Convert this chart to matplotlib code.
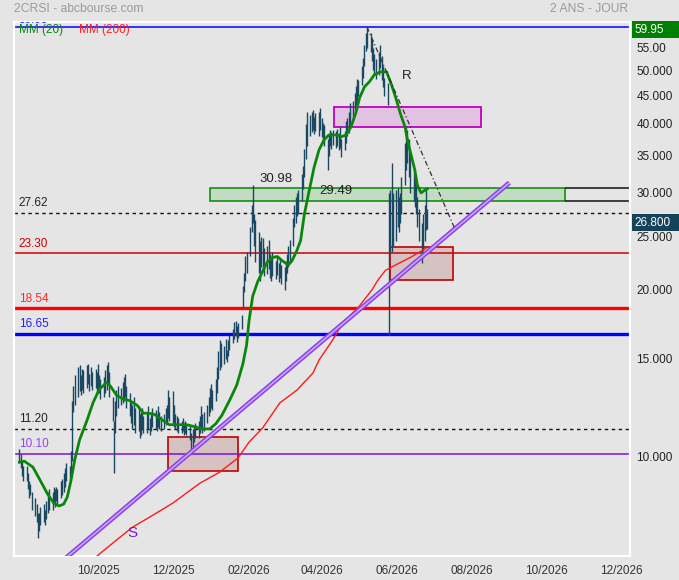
import matplotlib
matplotlib.use('Agg')
import matplotlib.pyplot as plt
import matplotlib.dates as mdates
from matplotlib.patches import Rectangle
from matplotlib.transforms import blended_transform_factory
from matplotlib.ticker import NullLocator, FixedLocator, FixedFormatter
import numpy as np
import pandas as pd

plt.rcParams['font.family'] = ['Liberation Sans', 'DejaVu Sans']

# ---------------- data ----------------
bar_start = '2025-07-29'
# daily lows / highs (one line per week)
lows = [
    9.7, 9.5, 9.2, 9.0,
    9.0, 8.7, 8.4, 8.5, 8.0,
    7.8, 7.6, 7.1, 7.3, 7.5,
    7.6, 7.5, 7.7, 7.9, 8.0,
    8.0, 8.2, 8.1, 8.3, 8.2,
    8.4, 8.5, 8.6, 8.8, 9.0,
    9.0, 9.2, 9.8, 12.0, 12.4,
    12.8, 13.1, 12.9, 13.2, 13.0,
    13.3, 13.5, 13.1, 13.4, 13.2,
    13.3, 13.0, 13.2, 13.0, 12.7,
    12.8, 13.0, 13.2, 13.5, 12.8,
    11.6, 9.3, 11.0, 11.8, 12.2,
    12.4, 12.5, 12.6, 12.8, 12.2,
    11.8, 11.5, 11.2, 11.4, 11.0,
    11.1, 10.8, 10.9, 11.2, 11.0,
    11.0, 11.2, 10.9, 11.1, 11.3,
    11.2, 11.1, 11.3, 11.2, 11.1,
    11.2, 11.4, 11.5, 11.7, 11.6,
    11.5, 11.3, 11.2, 11.1, 11.0,
    11.0, 11.1, 10.9, 11.0, 10.9,
    10.7, 10.1, 10.4, 10.6, 10.8,
    10.8, 11.0, 11.2, 11.0, 11.1,
    11.5, 11.8, 12.0, 12.2, 12.1,
    12.6, 13.0, 13.8, 14.3, 14.5,
    14.7, 15.0, 14.8, 15.2, 15.6,
    16.0, 16.3, 16.5, 16.1, 16.4,
    17.0, 18.6, 19.8, 20.8, 21.5,
    23.0, 25.5, 26.5, 24.0, 22.5,
    21.5, 20.8, 22.0, 21.6, 21.2,
    21.4, 21.8, 21.0, 20.8, 21.2,
    20.9, 21.3, 20.7, 21.0, 20.5,
    20.0, 20.8, 21.5, 22.0, 22.4,
    24.0, 26.0, 26.5, 27.2, 27.5,
    29.0, 30.5, 32.0, 34.5, 36.5,
    38.0, 38.6, 39.0, 38.4, 38.8,
    38.0, 39.0, 37.9, 37.0, 36.5,
    33.0, 35.0, 36.4, 36.0, 36.6,
    36.2, 36.5, 35.8, 36.2, 34.8,
    35.8, 37.0, 38.0, 38.5, 39.5,
    40.5, 42.0, 43.0, 44.0, 45.0,
    47.0, 48.5, 51.0, 54.2, 55.0,
    54.0, 52.0, 50.0, 49.0, 48.2,
    49.0, 50.5, 48.0, 46.7, 45.0,
    43.3, 16.6, 23.4, 23.4, 24.0,
    24.5, 26.0, 25.5, 26.5, 27.5,
    31.0, 33.0, 34.0, 32.0, 30.0,
    29.0, 28.3, 27.5, 26.0, 24.5,
    22.4, 23.5, 24.5, 25.7, 25.8,
]
highs = [
    10.3, 10.1, 9.8, 9.6,
    9.6, 9.3, 9.0, 8.9, 8.6,
    8.4, 8.2, 7.9, 7.9, 8.1,
    8.2, 8.0, 8.3, 8.6, 8.7,
    8.6, 8.8, 8.7, 8.8, 8.7,
    9.0, 9.1, 9.3, 9.5, 9.7,
    9.6, 10.2, 12.6, 13.4, 14.0,
    14.5, 14.6, 14.0, 14.4, 14.3,
    14.6, 14.7, 14.1, 14.5, 14.2,
    14.4, 14.2, 14.7, 14.0, 13.8,
    13.9, 14.3, 14.6, 14.8, 14.2,
    12.8, 11.6, 12.6, 13.2, 13.4,
    13.3, 13.6, 13.9, 14.1, 13.4,
    13.0, 12.6, 12.4, 12.8, 12.2,
    12.3, 11.9, 12.0, 12.2, 11.8,
    12.0, 12.3, 11.7, 12.0, 12.2,
    12.1, 11.9, 12.3, 12.0, 11.8,
    11.9, 12.2, 12.4, 13.2, 12.8,
    13.1, 12.4, 11.9, 11.8, 11.7,
    11.6, 11.7, 11.5, 11.6, 11.4,
    11.4, 11.0, 11.2, 11.3, 11.5,
    11.6, 11.8, 12.3, 11.9, 12.0,
    12.4, 12.8, 13.3, 13.5, 13.2,
    13.8, 14.5, 15.5, 16.2, 16.0,
    15.8, 16.3, 15.6, 16.2, 16.6,
    17.0, 17.5, 17.6, 17.2, 17.4,
    18.0, 20.3, 21.5, 23.0, 23.4,
    26.0, 28.5, 30.98, 27.5, 26.8,
    25.5, 24.5, 25.0, 24.8, 23.8,
    24.0, 24.6, 23.2, 22.8, 23.4,
    22.6, 23.0, 22.4, 22.8, 22.2,
    22.0, 22.6, 23.2, 24.0, 24.6,
    27.0, 28.5, 29.5, 30.0, 30.3,
    32.5, 33.5, 36.0, 40.0, 42.0,
    41.5, 42.0, 42.4, 41.2, 41.8,
    42.0, 42.8, 41.0, 40.2, 39.8,
    37.5, 38.4, 39.0, 38.6, 39.0,
    38.8, 39.2, 38.5, 39.6, 37.5,
    38.8, 40.5, 41.0, 42.0, 43.6,
    44.0, 45.5, 46.8, 48.2, 48.0,
    51.0, 52.6, 55.5, 58.5, 59.95,
    58.5, 57.0, 55.0, 53.5, 52.5,
    54.0, 55.5, 53.0, 51.0, 48.5,
    47.5, 30.0, 30.3, 34.0, 30.0,
    30.3, 30.6, 29.5, 30.0, 32.0,
    37.0, 39.6, 39.0, 37.5, 35.0,
    33.0, 32.0, 31.0, 29.5, 28.0,
    26.5, 27.5, 28.5, 30.3, 28.0,
]
last_price = 26.80

ma20_dates = ['2025-07-29', '2025-08-02', '2025-08-09', '2025-08-15', '2025-08-21', '2025-08-26',
              '2025-08-30', '2025-09-03', '2025-09-06', '2025-09-09', '2025-09-12', '2025-09-16',
              '2025-09-22', '2025-09-27', '2025-10-02', '2025-10-08', '2025-10-11', '2025-10-16',
              '2025-10-21', '2025-10-27', '2025-11-02', '2025-11-07', '2025-11-11', '2025-11-16',
              '2025-11-23', '2025-11-28', '2025-12-04', '2025-12-12', '2025-12-19', '2025-12-25',
              '2025-12-31', '2026-01-05', '2026-01-10', '2026-01-16', '2026-01-22', '2026-01-27',
              '2026-01-30', '2026-02-01', '2026-02-04', '2026-02-08', '2026-02-12', '2026-02-16',
              '2026-02-20', '2026-02-24', '2026-02-28', '2026-03-05', '2026-03-08', '2026-03-12',
              '2026-03-15', '2026-03-18', '2026-03-22', '2026-03-26', '2026-03-30', '2026-04-03',
              '2026-04-07', '2026-04-13', '2026-04-17', '2026-04-21', '2026-04-25', '2026-04-29',
              '2026-05-02', '2026-05-06', '2026-05-10', '2026-05-14', '2026-05-19', '2026-05-24',
              '2026-05-28', '2026-06-01', '2026-06-04', '2026-06-08', '2026-06-10', '2026-06-13',
              '2026-06-16', '2026-06-18', '2026-06-21', '2026-06-23', '2026-06-26']
ma20_vals = [9.75, 9.79, 9.55, 9.03, 8.53, 8.22, 8.12, 8.18, 8.43, 9.03,
             9.83, 10.7, 11.6, 12.5, 13.2, 13.6, 13.4, 12.9, 12.7, 12.6,
             12.35, 11.96, 11.96, 11.9, 11.6, 11.4, 11.4, 11.4, 11.3, 11.2,
             11.2, 11.45, 11.87, 12.6, 13.45, 14.7, 15.9, 17.6, 19.5, 20.7,
             21.6, 22.5, 22.9, 23.0, 22.6, 22.2, 22.6, 23.6, 24.6, 27.4,
             30.3, 33.4, 35.9, 37.4, 38.2, 38.2, 37.9, 38.2, 39.5, 41.9,
             44.6, 46.7, 47.7, 49.1, 49.7, 49.7, 47.1, 44.2, 41.9, 39.5,
             37.4, 35.1, 33.0, 31.0, 30.0, 30.2, 30.5]

ma200_dates = ['2025-09-29', '2025-10-03', '2025-10-16', '2025-10-29', '2025-11-12', '2025-12-01',
               '2025-12-23', '2026-01-08', '2026-01-23', '2026-02-01', '2026-02-12', '2026-02-26',
               '2026-03-12', '2026-03-25', '2026-03-30', '2026-04-09', '2026-04-19', '2026-05-01',
               '2026-05-12', '2026-05-17', '2026-05-23', '2026-06-02', '2026-06-13', '2026-06-25']
ma200_vals = [6.55, 6.67, 7.04, 7.43, 7.75, 8.22, 8.93, 9.35, 9.92, 10.6, 11.24, 12.48,
              13.17, 14.14, 14.93, 16.1, 17.5, 18.6, 20.0, 20.85, 21.7, 22.3, 22.95, 23.8]

# horizontal levels
levels = [59.95, 27.62, 23.30, 18.54, 16.65, 11.20, 10.10]
level_texts = ['59.95', '27.62', '23.30', '18.54', '16.65', '11.20', '10.10']

# zones: (start, end, low, high)
zone_green = ('2025-12-31', '2026-10-16', 29.05, 30.6)
zone_pink = ('2026-04-11', '2026-08-09', 39.5, 42.98)
zone_red_dec = ('2025-11-27', '2026-01-23', 9.39, 10.83)
zone_red_jun = ('2026-05-27', '2026-07-17', 20.85, 23.9)

# trend lines
support_dates = ['2025-08-31', '2026-09-01']
support_vals = [6.40, 31.3]
resist_dates = ['2026-05-08', '2026-07-18']
resist_vals = [59.95, 26.0]

y_ticks = [10, 15, 20, 25, 30, 35, 40, 45, 50, 55]
y_tick_labels = ['10.000', '15.000', '20.000', '25.000', '30.000', '35.000',
                 '40.000', '45.000', '50.000', '55.00']
x_tick_dates = ['2025-10-01', '2025-12-01', '2026-02-01', '2026-04-01',
                '2026-06-01', '2026-08-01', '2026-10-01', '2026-12-01']
x_tick_labels = ['10/2025', '12/2025', '02/2026', '04/2026',
                 '06/2026', '08/2026', '10/2026', '12/2026']

# ---------------- figure ----------------
BG = '#e5e5e5'
fig = plt.figure(figsize=(6.79, 5.80), dpi=100, facecolor=BG)
ax = fig.add_axes([14 / 679, 24 / 580, 616 / 679, 534 / 580], facecolor=BG)
ax.set_yscale('log')
ax.set_ylim(6.59, 61.2)
base = mdates.datestr2num('2025-10-01')
ax.set_xlim(base - 68.4, base + 433.2)

d2n = lambda s: mdates.date2num(pd.to_datetime(s))

# zones
def zone(z, fc, ec, lw=1.1):
    x0, x1 = d2n(z[0]), d2n(z[1])
    ax.add_patch(Rectangle((x0, z[2]), x1 - x0, z[3] - z[2], facecolor=fc,
                           edgecolor=ec, lw=lw, zorder=1))

zone(zone_green, '#c3dbc3', '#008a00')
zone(zone_pink, '#e2c2e2', '#c000c0', 1.3)
zone(zone_red_dec, '#d7c2c2', '#c00000', 1.2)
zone(zone_red_jun, '#d7c2c2', '#c00000', 1.2)
# black extension of the green zone
ax.hlines([zone_green[2], zone_green[3]], d2n(zone_green[1]), base + 433.2,
          color='#111111', lw=1.1, zorder=1)

# horizontal level lines
ax.axhline(levels[0], color='#0000ff', lw=1.1, zorder=2)
ax.axhline(levels[1], color='#111111', lw=1.0, ls=(0, (2.5, 2.5)), zorder=2)
ax.axhline(levels[2], color='#cc0000', lw=1.1, zorder=2)
ax.axhline(levels[3], color='#ff0000', lw=2.4, zorder=2)
ax.axhline(levels[4], color='#0000ff', lw=2.4, zorder=2)
ax.axhline(levels[5], color='#111111', lw=1.0, ls=(0, (2.5, 2.5)), zorder=2)
ax.axhline(levels[6], color='#7a10e0', lw=1.1, zorder=2)

trans = blended_transform_factory(ax.transAxes, ax.transData)
label_colors = ['#2020ff', '#222222', '#cc0000', '#ff2a2a', '#2020ff', '#222222', '#9040ff']
for v, t, c in zip(levels[1:], level_texts[1:], label_colors[1:]):
    ax.annotate(t, xy=(0.008, v), xycoords=trans, xytext=(0, 2.5),
                textcoords='offset points', va='bottom', ha='left',
                color=c, fontsize=8.5, zorder=6)
# top blue label, mostly hidden above the frame
ax.text(0.008, 60.95, level_texts[0], transform=trans, va='baseline', ha='left',
        color='#2020ff', fontsize=8.5, clip_on=True)

# price bars
bar_dates = pd.bdate_range(bar_start, periods=len(lows))
ax.vlines(mdates.date2num(bar_dates), lows, highs, color='#1a4862', lw=1.0, zorder=3)

# moving averages
ax.plot(d2n(ma200_dates), ma200_vals, color='#ff1a1a', lw=1.0, zorder=4)
ax.plot(d2n(ma20_dates), ma20_vals, color='#0a870a', lw=2.0, zorder=4)

# trend lines
ax.plot(d2n(support_dates), support_vals, color='#8a45e6', lw=3.4, zorder=5,
        solid_capstyle='butt')
ax.plot(d2n(support_dates), support_vals, color='#cfa8ff', lw=1.1, zorder=5,
        solid_capstyle='butt')
ax.plot(d2n(resist_dates), resist_vals, color='#333333', lw=0.9,
        ls=(0, (4, 2, 1, 2)), zorder=5)

# annotations
ax.text(d2n('2026-02-23'), 31.8, '30.98', ha='center', va='center', fontsize=9.5, color='#222222', zorder=6)
ax.text(d2n('2026-04-13'), 30.24, '29.49', ha='center', va='center', fontsize=9.5, color='#222222', zorder=6)
ax.text(d2n('2026-06-09'), 48.9, 'R', ha='center', va='center', fontsize=9.5, color='#222222', zorder=6)
ax.text(d2n('2025-10-29'), 7.25, 'S', ha='center', va='center', fontsize=11, color='#7020c0', zorder=6)

# legend
ax.text(0.008, 0.985, 'MM (20)', transform=ax.transAxes, color='#0a870a', fontsize=8.5,
        va='center', ha='left', zorder=6)
ax.text(0.1055, 0.985, 'MM (200)', transform=ax.transAxes, color='#ff2020', fontsize=8.5,
        va='center', ha='left', zorder=6)

# axes styling
for s in ax.spines.values():
    s.set_color('white')
    s.set_linewidth(1.6)
ax.yaxis.tick_right()
ax.yaxis.set_major_locator(FixedLocator(y_ticks))
ax.yaxis.set_major_formatter(FixedFormatter(y_tick_labels))
ax.yaxis.set_minor_locator(NullLocator())
ax.tick_params(axis='y', length=0, pad=4.5, labelsize=8.5, labelcolor='#222222')
ax.set_xticks(d2n(x_tick_dates))
ax.set_xticklabels(x_tick_labels)
ax.xaxis.set_minor_locator(NullLocator())
ax.tick_params(axis='x', length=0, pad=6.5, labelsize=8.5, labelcolor='#333333')

# price tags on the right axis
def price_tag(val, text, fc):
    k = np.exp(8.5 / 239.5)
    sh = np.exp(-3.0 / 239.5)
    ax.add_patch(Rectangle((1.003, val * sh / k), 0.09, val * sh * k - val * sh / k,
                           transform=trans, facecolor=fc, edgecolor='none', clip_on=False, zorder=7))
    ax.text(1.008, val * sh, text, transform=trans, color='white', va='center', ha='left',
            fontsize=8.5, clip_on=False, zorder=8)

price_tag(levels[0], '59.95', '#008000')
price_tag(last_price, '%.3f' % last_price, '#15435a')

# titles
fig.text(14 / 679, 1 - 9 / 580, '2CRSI - abcbourse.com', ha='left', va='center',
         color='#9a9a9a', fontsize=8.7)
fig.text(628 / 679, 1 - 9 / 580, '2 ANS - JOUR', ha='right', va='center',
         color='#9a9a9a', fontsize=8.7)

fig.savefig('out.png', dpi=100, facecolor=BG)
